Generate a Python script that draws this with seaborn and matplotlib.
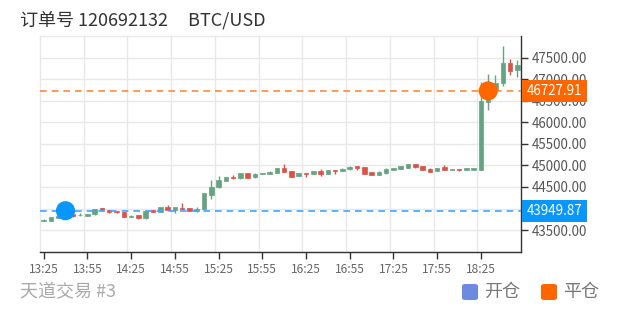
import matplotlib
matplotlib.use("Agg")
import matplotlib.pyplot as plt
import matplotlib.transforms as mtransforms
from matplotlib.patches import Rectangle, FancyBboxPatch
import pandas as pd
import seaborn as sns

# ---------------- data ----------------
times = ["13:25", "13:30", "13:35", "13:40", "13:45", "13:50", "13:55", "14:00", "14:05", "14:10",
         "14:15", "14:20", "14:25", "14:30", "14:35", "14:40", "14:45", "14:50", "14:55", "15:00",
         "15:05", "15:10", "15:15", "15:20", "15:25", "15:30", "15:35", "15:40", "15:45", "15:50",
         "15:55", "16:00", "16:05", "16:10", "16:15", "16:20", "16:25", "16:30", "16:35", "16:40",
         "16:45", "16:50", "16:55", "17:00", "17:05", "17:10", "17:15", "17:20", "17:25", "17:30",
         "17:35", "17:40", "17:45", "17:50", "17:55", "18:00", "18:05", "18:10", "18:15", "18:20",
         "18:25", "18:30", "18:35", "18:40", "18:45", "18:50"]
opens = [43715, 43715, 43790, 43835, 43875, 43840, 43825, 43865, 44010, 43965,
         43930, 43920, 43815, 43840, 43770, 43960, 43915, 44030, 43960, 44010,
         44005, 43955, 43990, 44320, 44490, 44640, 44735, 44700, 44820, 44720,
         44795, 44795, 44825, 44935, 44870, 44750, 44825, 44795, 44870, 44810,
         44900, 44875, 44910, 44985, 44955, 44850, 44785, 44815, 44895, 44920,
         44950, 45030, 44990, 44925, 44870, 44970, 44895, 44920, 44895, 44895,
         44895, 46480, 46750, 46920, 47380, 47210]
closes = [43740, 43795, 43835, 43860, 43818, 43855, 43875, 43995, 43965, 43910,
          43915, 43800, 43830, 43775, 43935, 43925, 44030, 43970, 44030, 43990,
          43945, 44000, 44355, 44505, 44665, 44720, 44712, 44820, 44715, 44810,
          44830, 44855, 44930, 44850, 44740, 44820, 44795, 44870, 44795, 44900,
          44860, 44925, 44970, 44950, 44800, 44785, 44855, 44925, 44945, 44985,
          45025, 44955, 44895, 44850, 44930, 44895, 44915, 44890, 44930, 44940,
          46495, 46595, 46920, 47380, 47195, 47330]
highs = [43755, 43800, 43845, 43880, 43880, 43890, 43880, 44000, 44015, 43970,
         43950, 43925, 43840, 43845, 43940, 43965, 44035, 44080, 44035, 44125,
         44010, 44040, 44365, 44665, 44760, 44730, 44780, 44825, 44825, 44815,
         44835, 44860, 44935, 45025, 44875, 44825, 44830, 44875, 44910, 44905,
         44905, 44930, 44975, 44990, 44960, 44855, 44860, 44930, 44950, 44995,
         45030, 45035, 44995, 44930, 44935, 45005, 44920, 44925, 44935, 44945,
         46940, 47110, 47095, 47770, 47460, 47445]
lows = [43705, 43710, 43785, 43825, 43812, 43830, 43820, 43860, 43960, 43905,
        43905, 43795, 43810, 43750, 43765, 43920, 43910, 43965, 43900, 43985,
        43940, 43915, 43985, 44220, 44485, 44635, 44690, 44695, 44710, 44715,
        44790, 44790, 44820, 44845, 44735, 44745, 44740, 44790, 44755, 44805,
        44800, 44870, 44905, 44895, 44795, 44780, 44780, 44810, 44890, 44915,
        44945, 44950, 44890, 44845, 44865, 44890, 44890, 44880, 44890, 44890,
        44890, 46285, 46700, 46840, 47095, 47055]

open_price = 43949.87
open_time = "13:40"
close_price = 46727.91
close_time = "18:30"

ytick_values = [43500, 44500, 45000, 45500, 46000, 46500, 47000, 47500]
title_text = "订单号 120692132     BTC/USD"
footer_text = "天道交易 #3"
legend_labels = ["开仓", "平仓"]

# ---------------- style ----------------
sns.set_theme(style="white")
plt.rcParams["font.family"] = ["Noto Sans CJK SC", "DejaVu Sans"]

GREEN = "#67a283"
RED = "#dc5245"
BLUE = "#0a96ff"
ORANGE = "#ff6600"
LEG_BLUE = "#6b8ae0"
GRID = "#e8e8e8"

df = pd.DataFrame({"time": times, "open": opens, "close": closes, "high": highs, "low": lows})
df["x"] = range(len(df))
df["up"] = df["close"] >= df["open"]

W, H = 620, 312
fig = plt.figure(figsize=(W / 100, H / 100), dpi=100)
L, R, T, B = 40, 521, 36, 251.7
ax = fig.add_axes([L / W, 1 - B / H, (R - L) / W, (B - T) / H])

ax.set_xlim(-0.5, len(df) - 0.5)
ax.set_ylim(43000, 48000)

# grid
for v in range(43000, 48001, 500):
    ax.axhline(v, color=GRID, lw=1, zorder=0, clip_on=False)
for k in range(0, len(df), 6):
    ax.axvline(k - 0.5, color=GRID, lw=1, zorder=0, clip_on=False)

# candles
for _, r in df.iterrows():
    col = GREEN if r["up"] else RED
    ax.vlines(r["x"], r["low"], r["high"], color=col, lw=1, zorder=2)
    lo = min(r["open"], r["close"])
    h = max(abs(r["close"] - r["open"]), 22)
    ax.bar(r["x"], h, bottom=lo, width=0.62, color=col, edgecolor=col, lw=0.5, zorder=3)

# dashed price lines
ax.axhline(open_price, color="#3fa5ff", lw=1.2, ls=(0, (4, 3)), zorder=4)
ax.axhline(close_price, color="#ff8a3d", lw=1.2, ls=(0, (4, 3)), zorder=4)

# markers
mk = pd.DataFrame({"x": [times.index(open_time), times.index(close_time)],
                   "y": [open_price, close_price],
                   "kind": legend_labels})
sns.scatterplot(data=mk, x="x", y="y", hue="kind", palette=[BLUE, ORANGE],
                s=190, edgecolor="none", legend=False, ax=ax, zorder=6)

# axes styling
for s in ["top", "left"]:
    ax.spines[s].set_visible(False)
for s in ["right", "bottom"]:
    ax.spines[s].set_color("#333333")
    ax.spines[s].set_linewidth(1)
ax.yaxis.tick_right()
ax.set_yticks(ytick_values)
ax.set_yticklabels([f"{v:.2f}" for v in ytick_values])
ax.set_xticks(list(range(0, len(df), 6)))
ax.set_xticklabels(times[::6])
ax.tick_params(axis="y", which="both", right=True, left=False, length=5, width=1,
               color="#333333", labelcolor="#555555", labelsize=9.6, pad=3)
ax.tick_params(axis="x", which="both", bottom=True, length=5, width=1,
               color="#333333", labelcolor="#666666", labelsize=8.6, pad=3)
ax.set_xlabel("")
ax.set_ylabel("")

# price tags at right
trans = mtransforms.blended_transform_factory(ax.transAxes, ax.transData)
box_w = 65 / (R - L)
box_h = 22 / ((B - T) / 5000)
for price, col in [(close_price, ORANGE), (open_price, BLUE)]:
    ax.add_patch(Rectangle((1.0 + 1 / (R - L), price - box_h / 2), box_w, box_h, transform=trans,
                           facecolor=col, edgecolor="none", clip_on=False, zorder=10))
    ax.text(1.0 + (1 + box_w * (R - L) / 2) / (R - L), price, f"{price:.2f}", transform=trans,
            ha="center", va="center", color="white", fontsize=9.6, zorder=11, clip_on=False)

# title and footer
fig.text(20 / W, 1 - 20 / H, title_text, ha="left", va="center", fontsize=13, color="#333333")
fig.text(20 / W, 1 - 292 / H, footer_text, ha="left", va="center", fontsize=13, color="#aaaaaa")

# legend
for (x0, lab, col) in [(462, legend_labels[0], LEG_BLUE), (541, legend_labels[1], ORANGE)]:
    fig.patches.append(FancyBboxPatch((x0 / W, 1 - 300 / H), 16 / W, 16 / H,
                                      boxstyle="round,pad=0,rounding_size=0.006",
                                      transform=fig.transFigure, facecolor=col, edgecolor="none"))
    fig.text((x0 + 22) / W, 1 - 292 / H, lab, ha="left", va="center", fontsize=13, color="#777777")

fig.savefig("out.png", dpi=100)
